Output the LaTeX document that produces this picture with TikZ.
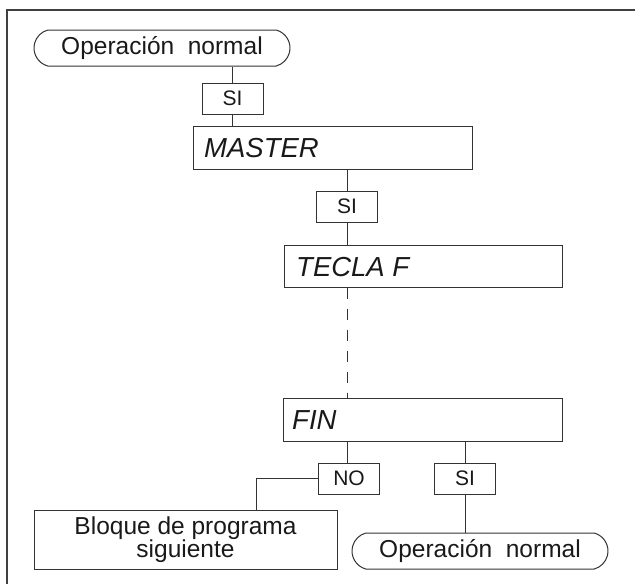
\documentclass[tikz,border=0pt]{standalone}
\usepackage{fontspec}
\setmainfont{Liberation Sans}
\usetikzlibrary{shapes.misc}
\tikzset{
  ln/.style={draw=black!80, line width=1pt},
  term/.style={ln, rounded rectangle, rounded rectangle arc length=150,
    minimum width=256pt, minimum height=36pt, inner sep=0pt,
    font=\fontsize{24.5}{24}\selectfont, text=black!90},
  tag/.style={ln, rectangle, minimum width=61pt, minimum height=31pt, inner sep=0pt,
    font=\fontsize{21}{21}\selectfont, text=black!90},
  stepbox/.style={ln, rectangle, minimum height=43pt, inner sep=0pt},
  steplabel/.style={anchor=west, inner sep=0pt,
    font=\fontsize{27.5}{27}\selectfont\itshape, text=black!90},
  blockbox/.style={ln, rectangle, minimum width=303pt, minimum height=59pt, inner sep=0pt,
    align=center, font=\fontsize{24.5}{23.5}\selectfont, text=black!90},
  wire/.style={draw=black!80, line width=1pt},
}
\begin{document}
\begin{tikzpicture}[x=1pt, y=-1pt]
  \useasboundingbox (0,0) rectangle (635,584);
  % open frame: top and left edges only
  \draw[black!75, line width=2pt] (7,584) -- (7,10) -- (635,10);

  \node[term] (start) at (162,48) {Operación\ \ normal};
  \node[tag] (si1) at (232.5,98.5) {SI};
  \node[stepbox, minimum width=279pt] (master) at (332.5,147.5) {};
  \node[steplabel] (mastertxt) at (204,148) {MASTER};
  \node[tag] (si2) at (347,206.5) {SI};
  \node[stepbox, minimum width=278pt, minimum height=42pt] (tecla) at (423,266) {};
  \node[steplabel] (teclatxt) at (296,267) {TECLA F};
  \node[stepbox, minimum width=279pt] (fin) at (422.5,419.5) {};
  \node[steplabel] (fintxt) at (292,420) {FIN};
  \node[tag] (no) at (349,478.5) {NO};
  \node[tag] (si3) at (465,478.5) {SI};
  \node[blockbox] (next) at (185.5,539.5) {Bloque de programa\\siguiente};
  \node[term] (end) at (480,551) {Operación\ \ normal};

  \coordinate (bend) at (256,0);

  \draw[wire] (si1.north) -- (si1.north |- start.south);
  \draw[wire] (si1.south) -- (si1.south |- master.north);
  \draw[wire] (si2.north) -- (si2.north |- master.south);
  \draw[wire] (si2.south) -- (si2.south |- tecla.north);
  \draw[wire, dash pattern=on 11pt off 10pt] (tecla.south -| si2.south) -- (fin.north -| si2.south);
  \draw[wire] (no.north -| si2.south) -- (fin.south -| si2.south);
  \draw[wire] (si3.north) -- (si3.north |- fin.south);
  \draw[wire] (no.west) -| (bend |- next.north);
  \draw[wire] (si3.south) -- (si3.south |- end.north);
\end{tikzpicture}
\end{document}
